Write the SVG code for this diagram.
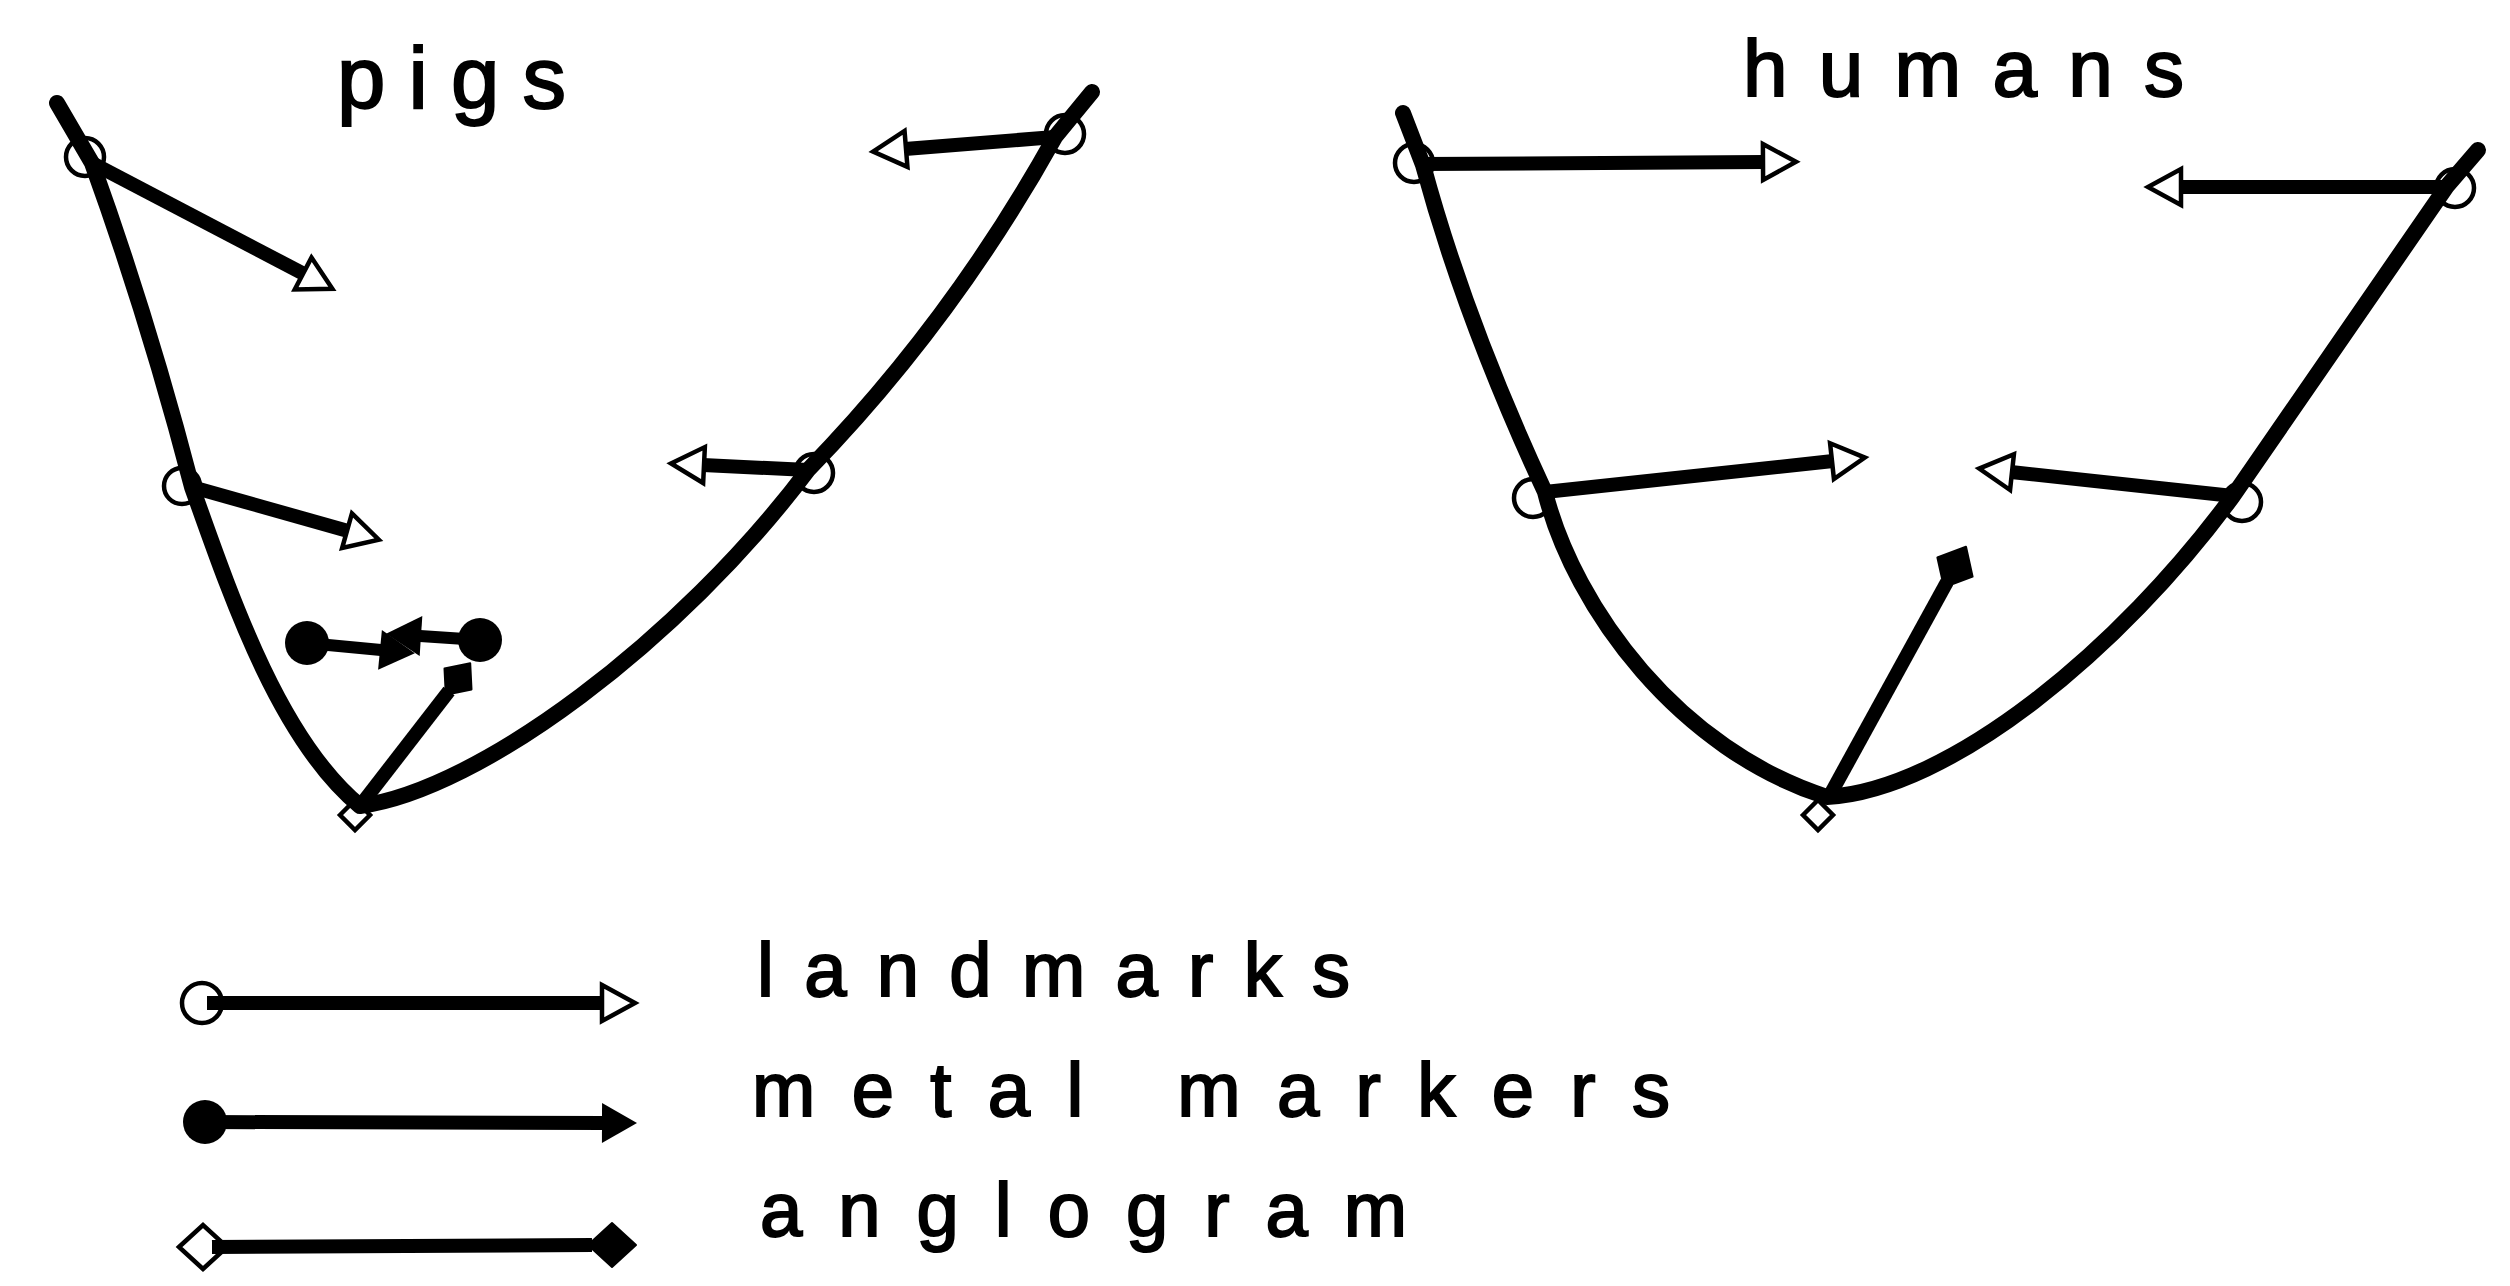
<svg xmlns="http://www.w3.org/2000/svg" width="2510" height="1286" viewBox="0 0 2510 1286">
  <style>
    .bg { fill: #ffffff; }
    .curve { fill: none; stroke: #000; stroke-width: 16; stroke-linecap: round; stroke-linejoin: round; }
    .lm { fill: none; stroke: #000; stroke-width: 14; stroke-linecap: butt; }
    .mm { fill: none; stroke: #000; stroke-width: 12; stroke-linecap: butt; }
    .ring { fill: #ffffff; stroke: #000; stroke-width: 4.5; }
    .dot { fill: #000; stroke: none; }
    .dia { fill: #000; stroke: #000; stroke-width: 2; stroke-linejoin: round; }
    .txt { font-family: "Liberation Sans", Arial, sans-serif; fill: #000; stroke: #000; stroke-width: 2; }
    .title { font-size: 87px; }
    .htitle { font-size: 80px; }
    .leg { font-size: 76px; }
  </style>
  <defs>
    <marker id="openTri" markerUnits="userSpaceOnUse" viewBox="-4 -24 44 48" markerWidth="44" markerHeight="48" refX="1" refY="0" orient="auto" overflow="visible">
      <path d="M0,-18 L33,0 L0,18 Z" fill="#fff" stroke="#000" stroke-width="4.5" stroke-linejoin="miter"/>
    </marker>
    <marker id="fillTri" markerUnits="userSpaceOnUse" viewBox="-4 -24 44 48" markerWidth="44" markerHeight="48" refX="1" refY="0" orient="auto" overflow="visible">
      <path d="M0,-20 L35,0 L0,20 Z" fill="#000"/>
    </marker>
  </defs>

  <rect class="bg" x="0" y="0" width="2510" height="1286"/>

  <!-- titles -->
  <g id="title-pigs"><text class="txt title" x="337" y="108" textLength="229" lengthAdjust="spacing">pigs</text></g>
  <g id="title-humans"><text class="txt htitle" x="1743" y="96" textLength="441" lengthAdjust="spacing">humans</text></g>

  <!-- landmark rings and start shapes (nodes) -->
  <g id="pig-node-topleft"><circle class="ring" cx="85" cy="157" r="19"/></g>
  <g id="pig-node-midleft"><circle class="ring" cx="182" cy="486" r="18"/></g>
  <g id="pig-node-right"><circle class="ring" cx="814" cy="473" r="19"/></g>
  <g id="pig-node-topright"><circle class="ring" cx="1065" cy="134" r="19"/></g>
  <g id="pig-node-bottom"><polygon class="ring" points="340,815 355,800 370,815 355,830"/></g>
  <g id="pig-metal-left"><circle class="dot" cx="307" cy="643" r="22"/></g>
  <g id="pig-metal-right"><circle class="dot" cx="480" cy="640" r="22"/></g>

  <g id="human-node-topleft"><circle class="ring" cx="1414" cy="163" r="19"/></g>
  <g id="human-node-midleft"><circle class="ring" cx="1533" cy="498" r="19"/></g>
  <g id="human-node-rightmid"><circle class="ring" cx="2242" cy="502" r="19"/></g>
  <g id="human-node-topright"><circle class="ring" cx="2455" cy="188" r="19"/></g>
  <g id="human-node-bottom"><polygon class="ring" points="1803,815 1818,800 1833,815 1818,830"/></g>

  <g id="connectors">
    <!-- pig outline -->
    <path class="curve" d="M57,103 L92,163 Q148,318 192,487 C232,600 280,740 360,806 C480,790 680,640 808,470 Q952,322 1055,137 L1092,92"/>
    <!-- pig landmark arrows -->
    <path class="lm" d="M92,163 L304,274" marker-end="url(#openTri)"/>
    <path class="lm" d="M192,487 L348,531" marker-end="url(#openTri)"/>
    <path class="lm" d="M808,470 L703,465" marker-end="url(#openTri)"/>
    <path class="lm" d="M1055,137 L905,149" marker-end="url(#openTri)"/>
    <!-- pig metal markers -->
    <path class="mm" d="M307,643 L381,650" marker-end="url(#fillTri)"/>
    <path class="mm" d="M480,640 L420,636" marker-end="url(#fillTri)"/>
    <!-- pig angiogram -->
    <path class="lm" d="M360,806 L449,691"/>
    <polygon class="dia" points="470.2,663.2 471.5,689.4 445.8,694.8 444.5,668.6"/>

    <!-- human outline -->
    <path class="curve" d="M1403,113 L1423,165 Q1465,320 1545,492 C1575,610 1680,750 1827,797 C1950,790 2120,650 2233,496 L2447,186 L2478,150"/>
    <!-- human landmark arrows -->
    <path class="lm" d="M1423,164 L1764,162" marker-end="url(#openTri)"/>
    <path class="lm" d="M1545,492 L1833,461" marker-end="url(#openTri)"/>
    <path class="lm" d="M2233,496 L2011,472" marker-end="url(#openTri)"/>
    <path class="lm" d="M2447,187 L2180,187" marker-end="url(#openTri)"/>
    <!-- human angiogram -->
    <path class="lm" d="M1830,795 L1947,582"/>
    <polygon class="dia" points="1966,546.8 1972.6,576.6 1944,587.2 1937.4,557.5"/>
  </g>

  <!-- legend -->
  <g id="legend-landmarks">
    <circle class="ring" cx="202" cy="1003" r="20"/>
    <path class="lm" d="M207,1003 L603,1003" marker-end="url(#openTri)"/>
    <text class="txt leg" x="757" y="996" textLength="593" lengthAdjust="spacing">landmarks</text>
  </g>
  <g id="legend-metal">
    <circle class="dot" cx="205" cy="1122" r="22"/>
    <path class="lm" d="M205,1122 L603,1123" marker-end="url(#fillTri)"/>
    <text class="txt leg" x="752" y="1116" textLength="918" lengthAdjust="spacing">metal markers</text>
  </g>
  <g id="legend-angiogram">
    <polygon class="ring" points="179,1247 203,1225 227,1247 203,1269"/>
    <path class="lm" d="M212,1247 L592,1245"/>
    <polygon class="dia" points="588,1245 612,1223 636,1245 612,1267"/>
    <text class="txt leg" x="760" y="1236" textLength="647" lengthAdjust="spacing">anglogram</text>
  </g>
</svg>
